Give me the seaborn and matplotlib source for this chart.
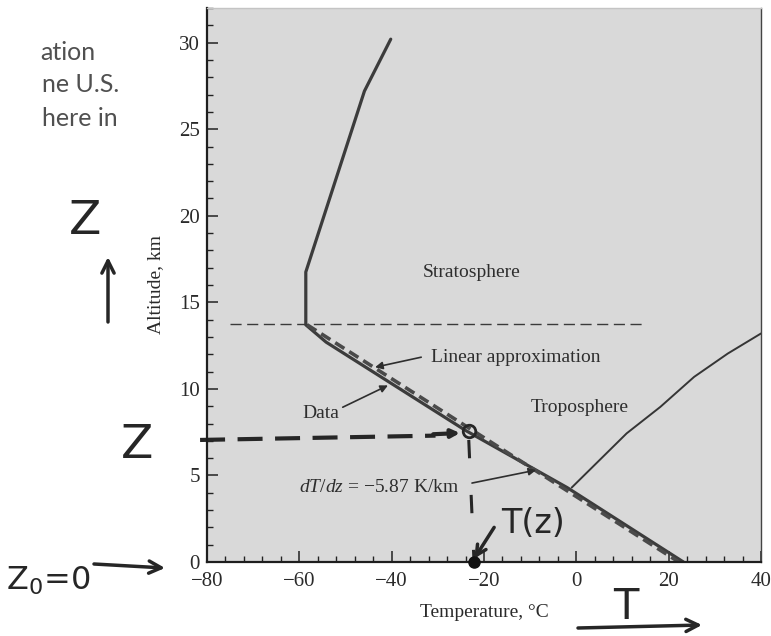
import numpy as np
import pandas as pd
import seaborn as sns
import matplotlib.pyplot as plt
from matplotlib.patches import FancyArrowPatch
from matplotlib.ticker import MultipleLocator

sns.set_theme(style='ticks')
plt.rcParams['font.family'] = ['Liberation Serif', 'DejaVu Serif']
plt.rcParams['mathtext.fontset'] = 'custom'
plt.rcParams['mathtext.rm'] = 'Liberation Serif'
plt.rcParams['mathtext.it'] = 'Liberation Serif:italic'

# Data (temperature in degC, altitude in km)
data_T = [-40.2, -45.9, -58.6, -58.6, -54.2, -24.0, -2.0, 23.2]
data_z = [30.2, 27.2, 16.75, 13.7, 12.7, 7.6, 4.3, 0.0]

approx_T = [-58.3, 22.2]
approx_z = [13.7, 0.0]

curve_T = [-1.0, 10.9, 18.2, 25.5, 32.8, 40.0]
curve_z = [4.3, 7.43, 8.96, 10.69, 12.04, 13.2]

tropopause_T = [-75.0, 14.5]
tropopause_z = [13.73, 13.73]

# handwritten reading of T(z)
point_T = -23.3
point_z = 7.55
ground_T = -22.2

xticks = [-80, -60, -40, -20, 0, 20, 40]
yticks = [0, 5, 10, 15, 20, 25, 30]

W, H = 771, 636
fig = plt.figure(figsize=(W / 100, H / 100), dpi=100)
fig.patch.set_facecolor('white')
ax = fig.add_axes([207 / W, 1 - 562 / H, (761 - 207) / W, (562 - 8) / H])
ax.set_facecolor('#d9d9d9')

df_data = pd.DataFrame({'T': data_T, 'z': data_z})
df_approx = pd.DataFrame({'T': approx_T, 'z': approx_z})
df_curve = pd.DataFrame({'T': curve_T, 'z': curve_z})
df_trop = pd.DataFrame({'T': tropopause_T, 'z': tropopause_z})

sns.lineplot(data=df_trop, x='T', y='z', sort=False, estimator=None, ax=ax,
             color='#3a3a3a', lw=1.0)
ax.lines[-1].set_dashes((8, 4))
sns.lineplot(data=df_curve, x='T', y='z', sort=False, estimator=None, ax=ax,
             color='#353535', lw=1.4)
sns.lineplot(data=df_data, x='T', y='z', sort=False, estimator=None, ax=ax,
             color='#3c3c3c', lw=2.3)
sns.lineplot(data=df_approx, x='T', y='z', sort=False, estimator=None, ax=ax,
             color='#4a4a4a', lw=2.6)
ax.lines[-1].set_dashes((3, 1.6))

ax.set_xlim(-80, 40)
ax.set_ylim(0, 32)
ax.set_xticks(xticks)
ax.set_yticks(yticks)
ax.xaxis.set_minor_locator(MultipleLocator(4))
ax.yaxis.set_minor_locator(MultipleLocator(1))
ax.tick_params(which='major', direction='in', length=8, width=1.1, color='#222',
               labelsize=15, labelcolor='#2a2a2a')
ax.tick_params(which='minor', direction='in', length=4.5, width=1.0, color='#222')
ax.tick_params(axis='x', pad=7)
ax.tick_params(axis='y', pad=5)

for side in ['left', 'bottom']:
    ax.spines[side].set_color('#1e1e1e')
    ax.spines[side].set_linewidth(1.6)
ax.spines['right'].set_color('#444')
ax.spines['right'].set_linewidth(1.0)
ax.spines['top'].set_color('#c4c4c4')
ax.spines['top'].set_linewidth(1.0)

ax.set_xlabel('Temperature, °C', fontsize=14, color='#2a2a2a')
ax.set_ylabel('Altitude, km', fontsize=14, color='#2a2a2a')
ax.xaxis.set_label_coords(0.5, -0.076)
ax.yaxis.set_label_coords(-0.078, 0.5)

# text labels on the chart
txt = dict(fontsize=14, color='#2e2e2e')
ax.text(-22.6, 16.7, 'Stratosphere', ha='center', va='center', **txt)
ax.text(0.8, 8.9, 'Troposphere', ha='center', va='center', **txt)
ax.text(-55.3, 8.6, 'Data', ha='center', va='center', **txt)
ax.text(-31.4, 11.83, 'Linear approximation', ha='left', va='center', **txt)
ax.text(-60.0, 4.33, r'$dT/dz$ = $-$5.87 K/km', ha='left', va='center', **txt)

arr = dict(arrowstyle='-|>', color='#2e2e2e', lw=1.2, mutation_scale=11,
           shrinkA=0, shrinkB=0)
ax.annotate('', xy=(-43.6, 11.25), xytext=(-33.6, 11.83), arrowprops=arr)
ax.annotate('', xy=(-40.8, 10.2), xytext=(-50.6, 8.94), arrowprops=arr)
ax.annotate('', xy=(-8.7, 5.31), xytext=(-22.6, 4.56), arrowprops=arr)

# handwritten notes
hand = '#262626'
hfont = ['DejaVu Sans']
ax.plot([-81.5, -30.5], [7.05, 7.3], color=hand, lw=3, dashes=(6, 3),
        clip_on=False, solid_capstyle='round')
ax.annotate('', xy=(-25.2, 7.45), xytext=(-31.0, 7.38),
            arrowprops=dict(arrowstyle='-|>', color=hand, lw=3,
                            mutation_scale=12, shrinkA=0, shrinkB=0))
ax.plot([point_T, ground_T], [point_z - 0.5, 0.25], color=hand, lw=2.2,
        dashes=(6, 12))
ax.plot([point_T], [point_z], marker='o', ms=9, mfc='none', mec=hand, mew=2)
ax.plot([ground_T], [0.0], marker='o', ms=8, color='#111', clip_on=False,
        zorder=5)
ax.annotate('', xy=(-22.1, 0.2), xytext=(-17.8, 2.0),
            arrowprops=dict(arrowstyle='->', color=hand, lw=2.5,
                            mutation_scale=18, shrinkA=0, shrinkB=0))
ax.text(-16.2, 2.2, 'T(z)', fontsize=24, color=hand, family=hfont,
        ha='left', va='center')


def fx(px):
    return px / W


def fy(py):
    return 1 - py / H


fig.text(fx(85), fy(221), 'Z', fontsize=34, color=hand, family=hfont,
         ha='center', va='center')
fig.text(fx(137), fy(446), 'Z', fontsize=34, color=hand, family=hfont,
         ha='center', va='center')
fig.text(fx(48), fy(581), 'Z$_0$=0', fontsize=23, color=hand, family=hfont,
         ha='center', va='center', math_fontfamily='dejavusans')
fig.text(fx(626), fy(607), 'T', fontsize=30, color=hand, family=hfont,
         ha='center', va='center')

harr = dict(arrowstyle='->', color=hand, lw=2.5, mutation_scale=22,
            shrinkA=0, shrinkB=0)
fig.add_artist(FancyArrowPatch((fx(108), fy(322)), (fx(108), fy(257)),
                               transform=fig.transFigure, **harr))
fig.add_artist(FancyArrowPatch((fx(94), fy(564)), (fx(165), fy(568)),
                               transform=fig.transFigure, **harr))
fig.add_artist(FancyArrowPatch((fx(578), fy(628)), (fx(702), fy(625)),
                               transform=fig.transFigure, **harr))

# cut-off caption text from the page
cap = dict(fontsize=18, color='#505050', family=['Lato', 'DejaVu Sans'],
           ha='left', va='center')
fig.text(fx(40), fy(52), 'ation', **cap)
fig.text(fx(42), fy(85), 'ne U.S.', **cap)
fig.text(fx(42), fy(118), 'here in', **cap)

plt.savefig('out.png', dpi=100)
